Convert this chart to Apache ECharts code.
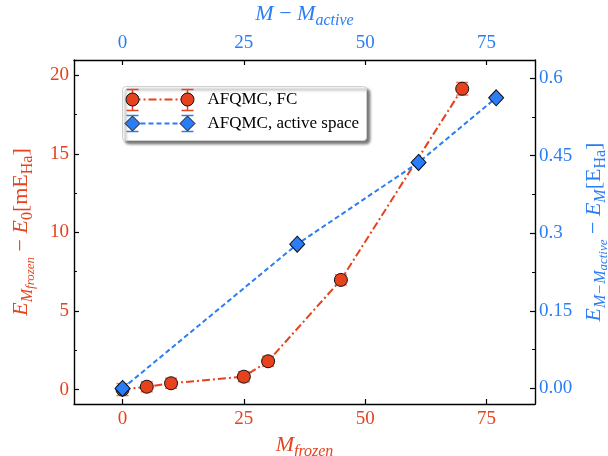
<!DOCTYPE html>
<html>
<head>
  <meta charset="utf-8">
  <style>
    html, body { margin: 0; padding: 0; width: 100%; height: 100%; overflow: hidden; background: #fff; }
  </style>
  <script src="https://cdn.jsdelivr.net/npm/echarts@6/dist/echarts.min.js"></script>
</head>
<body>
  <div id="container" style="width: 608px; height: 456px;"></div>
  <script>
    // AFQMC, FC  (bottom x: M_frozen, left y: mE_Ha)
    const fcX = [0, 5, 10, 25, 30, 45, 70];
    const fcY = [0, 0.18, 0.4, 0.82, 1.8, 6.98, 19.15];
    const fcErr = [0.38, 0.32, 0.32, 0.32, 0.32, 0.32, 0.4];

    // AFQMC, active space  (top x: M - M_active, right y: E_Ha)
    const asX = [0, 36, 61, 77];
    const asY = [0, 0.279, 0.437, 0.562];
    const asErr = [0.004, 0.004, 0.004, 0.004];

    // ticks
    const xTicks = [0, 25, 50, 75];
    const leftTicks = [0, 5, 10, 15, 20];
    const leftMinor = [2.5, 7.5, 12.5, 17.5];
    const rightTicks = [0, 0.15, 0.3, 0.45, 0.6];
    const rightLabels = ['0.00', '0.15', '0.3', '0.45', '0.6'];
    const rightMinor = [0.075, 0.225, 0.375, 0.525];

    const RED = '#e5421d';
    const BLUE = '#2a7df5';
    const FONT = 'Liberation Serif';

    var dom = document.getElementById('container');
    var myChart = echarts.init(dom, null, { renderer: 'canvas' });

    function errorBars(color, opacity) {
      return function (params, api) {
        const x = api.value(0), y = api.value(1), e = api.value(2);
        const top = api.coord([x, y + e]);
        const bot = api.coord([x, y - e]);
        const hw = 6;
        const style = { stroke: color, lineWidth: 1.5, opacity: opacity };
        return {
          type: 'group',
          children: [
            { type: 'line', shape: { x1: top[0], y1: top[1], x2: bot[0], y2: bot[1] }, style: style },
            { type: 'line', shape: { x1: top[0] - hw, y1: top[1], x2: top[0] + hw, y2: top[1] }, style: style },
            { type: 'line', shape: { x1: bot[0] - hw, y1: bot[1], x2: bot[0] + hw, y2: bot[1] }, style: style }
          ]
        };
      };
    }

    const zip = (xs, ys, es) => xs.map((x, i) => es ? [x, ys[i], es[i]] : [x, ys[i]]);

    const richRed = {
      i: { fontFamily: FONT, fontStyle: 'italic', fontSize: 22, color: RED, verticalAlign: 'bottom', padding: [0, 0, 5, 0] },
      n: { fontFamily: FONT, fontSize: 22, color: RED, verticalAlign: 'bottom', padding: [0, 0, 5, 0] },
      s: { fontFamily: FONT, fontStyle: 'italic', fontSize: 16, color: RED, verticalAlign: 'bottom', padding: [0, 0, 1, 0] },
      u: { fontFamily: FONT, fontSize: 16, color: RED, verticalAlign: 'bottom', padding: [0, 0, 1, 0] },
      ss: { fontFamily: FONT, fontStyle: 'italic', fontSize: 13, color: RED, verticalAlign: 'bottom' }
    };
    const richBlue = {};
    Object.keys(richRed).forEach(k => { richBlue[k] = Object.assign({}, richRed[k], { color: BLUE }); });

    const tickLabel = (color) => ({ fontFamily: FONT, fontSize: 19, color: color });
    const frame = { show: true, onZero: false, lineStyle: { color: '#000', width: 1.4 } };

    var option = {
      animation: false,
      grid: { left: 74, right: 73, top: 60, bottom: 52, containLabel: false, outerBoundsMode: 'none' },
      xAxis: [
        {
          type: 'value', position: 'bottom', min: -10, max: 85,
          name: '{i|M}{s|frozen}', nameLocation: 'middle', nameGap: 24,
          nameTextStyle: { rich: richRed },
          axisLine: frame,
          axisTick: { show: true, inside: true, length: 5, customValues: xTicks, lineStyle: { color: '#000', width: 1.2 } },
          axisLabel: Object.assign({ customValues: xTicks, margin: 6 }, tickLabel(RED)),
          splitLine: { show: false }
        },
        {
          type: 'value', position: 'top', min: -10, max: 85,
          name: '{i|M}{n| − }{i|M}{s|active}', nameLocation: 'middle', nameGap: 23,
          nameTextStyle: { rich: richBlue },
          axisLine: frame,
          axisTick: { show: true, inside: true, length: 5, customValues: xTicks, lineStyle: { color: '#000', width: 1.2 } },
          axisLabel: Object.assign({ customValues: xTicks, margin: 7 }, tickLabel(BLUE)),
          splitLine: { show: false }
        }
      ],
      yAxis: [
        {
          type: 'value', position: 'left', min: -0.92, max: 20.98,
          name: '{i|E}{s|M}{ss|frozen}{n| − }{i|E}{u|0}{n|[mE}{u|Ha}{n|]}',
          nameLocation: 'middle', nameGap: 37, nameRotate: 90,
          nameTextStyle: { rich: richRed },
          axisLine: frame,
          axisTick: { show: true, inside: true, length: 5, customValues: leftTicks, lineStyle: { color: '#000', width: 1.2 } },
          axisLabel: Object.assign({ customValues: leftTicks, margin: 5 }, tickLabel(RED)),
          splitLine: { show: false }
        },
        {
          type: 'value', position: 'right', min: -0.030, max: 0.635,
          name: '{i|E}{s|M−M}{ss|active}{n| − }{i|E}{s|M}{n|[E}{u|Ha}{n|]}',
          nameLocation: 'middle', nameGap: 44, nameRotate: 90,
          nameTextStyle: { rich: richBlue },
          axisLine: frame,
          axisTick: { show: true, inside: true, length: 5, customValues: rightTicks, lineStyle: { color: '#000', width: 1.2 } },
          axisLabel: Object.assign({
            customValues: rightTicks, margin: 4,
            formatter: (v) => rightLabels[rightTicks.indexOf(v)]
          }, tickLabel(BLUE)),
          splitLine: { show: false }
        },
        {
          type: 'value', position: 'left', min: -0.92, max: 20.98,
          axisLine: { show: false, onZero: false },
          axisTick: { show: true, inside: true, length: 3, customValues: leftMinor, lineStyle: { color: '#000', width: 1 } },
          axisLabel: { show: false },
          splitLine: { show: false }
        },
        {
          type: 'value', position: 'right', min: -0.030, max: 0.635,
          axisLine: { show: false, onZero: false },
          axisTick: { show: true, inside: true, length: 3, customValues: rightMinor, lineStyle: { color: '#000', width: 1 } },
          axisLabel: { show: false },
          splitLine: { show: false }
        }
      ],
      series: [
        {
          name: 'AFQMC, FC err', type: 'custom', xAxisIndex: 0, yAxisIndex: 0, z: 1,
          renderItem: errorBars(RED, 0.75),
          data: zip(fcX, fcY, fcErr)
        },
        {
          name: 'AFQMC, FC', type: 'line', xAxisIndex: 0, yAxisIndex: 0, z: 2,
          data: zip(fcX, fcY),
          symbol: 'circle', symbolSize: 13,
          lineStyle: { color: RED, width: 2, type: [8, 3, 2, 3] },
          itemStyle: { color: RED, borderColor: '#111', borderWidth: 1 }
        },
        {
          name: 'AFQMC, active space err', type: 'custom', xAxisIndex: 1, yAxisIndex: 1, z: 3,
          renderItem: errorBars(BLUE, 0.75),
          data: zip(asX, asY, asErr)
        },
        {
          name: 'AFQMC, active space', type: 'line', xAxisIndex: 1, yAxisIndex: 1, z: 4,
          data: zip(asX, asY),
          symbol: 'diamond', symbolSize: [15, 16],
          lineStyle: { color: BLUE, width: 2, type: [5, 3] },
          itemStyle: { color: BLUE, borderColor: '#111', borderWidth: 1 }
        }
      ],
      graphic: [
        {
          type: 'group', left: 122, top: 86, z: 100,
          children: [
            {
              type: 'rect', shape: { x: 0, y: 0, width: 244, height: 54, r: 3 },
              style: { fill: '#fff', stroke: '#cfcfcf', lineWidth: 1, shadowBlur: 3, shadowOffsetX: 3, shadowOffsetY: 3, shadowColor: 'rgba(0,0,0,0.55)' }
            },
            // FC row
            { type: 'line', shape: { x1: 10, y1: 13, x2: 65, y2: 13 }, style: { stroke: RED, lineWidth: 2, lineDash: [8, 3, 2, 3] } },
            { type: 'line', shape: { x1: 10, y1: 3, x2: 10, y2: 24 }, style: { stroke: RED, lineWidth: 1.5 } },
            { type: 'line', shape: { x1: 4, y1: 3, x2: 16, y2: 3 }, style: { stroke: RED, lineWidth: 1.5 } },
            { type: 'line', shape: { x1: 4, y1: 24, x2: 16, y2: 24 }, style: { stroke: RED, lineWidth: 1.5 } },
            { type: 'line', shape: { x1: 65, y1: 3, x2: 65, y2: 24 }, style: { stroke: RED, lineWidth: 1.5 } },
            { type: 'line', shape: { x1: 59, y1: 3, x2: 71, y2: 3 }, style: { stroke: RED, lineWidth: 1.5 } },
            { type: 'line', shape: { x1: 59, y1: 24, x2: 71, y2: 24 }, style: { stroke: RED, lineWidth: 1.5 } },
            { type: 'circle', shape: { cx: 10, cy: 13, r: 6.5 }, style: { fill: RED, stroke: '#111', lineWidth: 1 } },
            { type: 'circle', shape: { cx: 65, cy: 13, r: 6.5 }, style: { fill: RED, stroke: '#111', lineWidth: 1 } },
            { type: 'text', x: 85, y: 13, style: { text: 'AFQMC, FC', fontFamily: FONT, fontSize: 17, fill: '#000', verticalAlign: 'middle' } },
            // active space row
            { type: 'line', shape: { x1: 10, y1: 37, x2: 65, y2: 37 }, style: { stroke: BLUE, lineWidth: 2, lineDash: [5, 3] } },
            { type: 'line', shape: { x1: 4, y1: 29, x2: 16, y2: 29 }, style: { stroke: BLUE, lineWidth: 1.5 } },
            { type: 'line', shape: { x1: 4, y1: 45, x2: 16, y2: 45 }, style: { stroke: BLUE, lineWidth: 1.5 } },
            { type: 'line', shape: { x1: 59, y1: 29, x2: 71, y2: 29 }, style: { stroke: BLUE, lineWidth: 1.5 } },
            { type: 'line', shape: { x1: 59, y1: 45, x2: 71, y2: 45 }, style: { stroke: BLUE, lineWidth: 1.5 } },
            { type: 'polygon', shape: { points: [[10, 29.5], [17.5, 37], [10, 44.5], [2.5, 37]] }, style: { fill: BLUE, stroke: '#111', lineWidth: 1 } },
            { type: 'polygon', shape: { points: [[65, 29.5], [72.5, 37], [65, 44.5], [57.5, 37]] }, style: { fill: BLUE, stroke: '#111', lineWidth: 1 } },
            { type: 'text', x: 85, y: 37, style: { text: 'AFQMC, active space', fontFamily: FONT, fontSize: 17, fill: '#000', verticalAlign: 'middle' } }
          ]
        }
      ]
    };

    myChart.setOption(option);
  </script>
</body>
</html>
